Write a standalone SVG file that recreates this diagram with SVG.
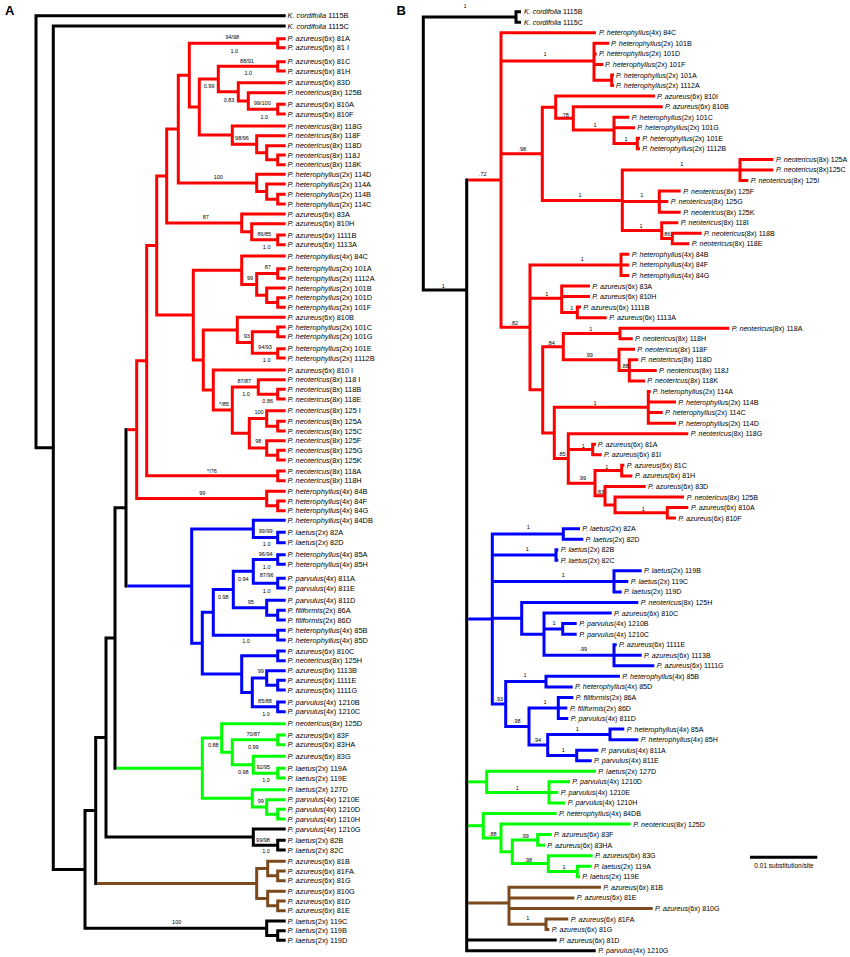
<svg xmlns="http://www.w3.org/2000/svg" width="850" height="957" viewBox="0 0 850 957">
<style>
.e path{fill:none;stroke-width:3;stroke-linejoin:miter;stroke-linecap:butt}
.k{stroke:#000}.r{stroke:#f00}.b{stroke:#00f}.g{stroke:#0f0}.n{stroke:#7b4b1e}
text{font-family:"Liberation Sans",Arial,Helvetica,sans-serif;fill:#000}
.ta text{font-size:7.4px}
.tb text{font-size:7.1px}
.s text{font-size:5.5px;text-anchor:middle}
.i{font-style:italic}
.h{font-size:13px;font-weight:bold}
</style>
<rect width="850" height="957" fill="#fff"/>
<text class="h" x="5" y="15">A</text>
<text class="h" x="396.5" y="15">B</text>

<g id="connectors-A" class="e">
<path class="r" d="M127.5 429.65H136.7"/>
<path class="b" d="M127.5 586.05H191.7"/>
<path class="g" d="M116.5 768.15H202.3"/>
<path class="n" d="M97.2 883.6H256.7"/>
<path class="k" d="M285.7 15.7H36V447.7H53.3"/>
<path class="k" d="M285.7 26H53.3V869.4H85"/>
<path class="k" d="M95.7 810.6H85V928.25H266.7"/>
<path class="k" d="M106 737.55H95.7V885.1"/>
<path class="k" d="M115 638H106V837.1H253.3"/>
<path class="k" d="M126 507.85H115V769.65"/>
<path class="k" d="M126 428.15V587.55"/>
<path class="k" d="M285.7 829H253.3V845.15H277.7"/>
<path class="k" d="M285.7 840.3H277.7V850H285.7"/>
<path class="k" d="M285.7 921H266.7V935.5H277.7"/>
<path class="k" d="M285.7 930.7H277.7V940.3H285.7"/>
<path class="r" d="M146.7 360.7H136.7V498.6H266.7"/>
<path class="r" d="M156.7 245.55H146.7V475.85H277.7"/>
<path class="r" d="M166.7 176H156.7V315.1H193.3"/>
<path class="r" d="M178.3 129.05H166.7V222.9H241.7"/>
<path class="r" d="M189.3 75.15H178.3V182.95H256.7"/>
<path class="r" d="M277.7 43.2H189.3V107.1H199.3"/>
<path class="r" d="M218.3 79.1H199.3V135.1H232.3"/>
<path class="r" d="M277.7 66.35H218.3V91.8H238.3"/>
<path class="r" d="M285.7 82.7H238.3V100.9H248.3"/>
<path class="r" d="M285.7 92.7H248.3V109.15H277.7"/>
<path class="r" d="M285.7 104.3H277.7V114H285.7"/>
<path class="r" d="M285.7 38.7H277.7V47.7H285.7"/>
<path class="r" d="M285.7 61.7H277.7V71H285.7"/>
<path class="r" d="M285.7 126H232.3V144.25H256.7"/>
<path class="r" d="M285.7 135.7H256.7V152.8H266.7"/>
<path class="r" d="M285.7 145.7H266.7V159.85H277.7"/>
<path class="r" d="M285.7 155H277.7V164.7H285.7"/>
<path class="r" d="M285.7 174.3H256.7V191.6H266.7"/>
<path class="r" d="M285.7 184H266.7V199.15H277.7"/>
<path class="r" d="M285.7 194.3H277.7V204H285.7"/>
<path class="r" d="M285.7 214H241.7V231.8H251.7"/>
<path class="r" d="M285.7 223.7H251.7V239.85H277.7"/>
<path class="r" d="M285.7 235H277.7V244.7H285.7"/>
<path class="r" d="M241.7 270.2H193.3V360H203.3"/>
<path class="r" d="M285.7 256H241.7V284.4H256.7"/>
<path class="r" d="M277.7 273.5H256.7V295.25H266.7"/>
<path class="r" d="M285.7 268.7H277.7V278.3H285.7"/>
<path class="r" d="M285.7 288H266.7V302.5H277.7"/>
<path class="r" d="M285.7 297.7H277.7V307.3H285.7"/>
<path class="r" d="M237.3 329.95H203.3V390H213.3"/>
<path class="r" d="M285.7 317.3H237.3V342.6H252.3"/>
<path class="r" d="M277.7 331.85H252.3V353.35H277.7"/>
<path class="r" d="M285.7 327H277.7V336.7H285.7"/>
<path class="r" d="M285.7 348.7H277.7V358H285.7"/>
<path class="r" d="M285.7 370H213.3V410H232.3"/>
<path class="r" d="M258.3 386.9H232.3V433.15H249.3"/>
<path class="r" d="M285.7 379.7H258.3V394.15H277.7"/>
<path class="r" d="M285.7 389.3H277.7V399H285.7"/>
<path class="r" d="M266.7 418.4H249.3V447.9H266.7"/>
<path class="r" d="M285.7 410.7H266.7V426.15H277.7"/>
<path class="r" d="M285.7 421.3H277.7V431H285.7"/>
<path class="r" d="M285.7 440.7H266.7V455.15H277.7"/>
<path class="r" d="M285.7 450.3H277.7V460H285.7"/>
<path class="r" d="M285.7 471H277.7V480.7H285.7"/>
<path class="r" d="M285.7 491.3H266.7V505.85H277.7"/>
<path class="r" d="M285.7 501H277.7V510.7H285.7"/>
<path class="b" d="M253.3 528.9H191.7V643.2H202.3"/>
<path class="b" d="M285.7 520.3H253.3V537.5H277.7"/>
<path class="b" d="M285.7 532.3H277.7V542.7H285.7"/>
<path class="b" d="M213.3 612.3H202.3V674.1H241.7"/>
<path class="b" d="M233.3 589.5H213.3V635.15H277.7"/>
<path class="b" d="M253.3 571.3H233.3V607.7H266.7"/>
<path class="b" d="M277.7 559.5H253.3V583.15H277.7"/>
<path class="b" d="M285.7 554.7H277.7V564.3H285.7"/>
<path class="b" d="M285.7 578.3H277.7V588H285.7"/>
<path class="b" d="M285.7 600.3H266.7V615.15H277.7"/>
<path class="b" d="M285.7 610.3H277.7V620H285.7"/>
<path class="b" d="M285.7 630.3H277.7V640H285.7"/>
<path class="b" d="M277.7 655.85H241.7V692.4H252.3"/>
<path class="b" d="M285.7 651H277.7V660.7H285.7"/>
<path class="b" d="M266.7 677.9H252.3V706.85H277.7"/>
<path class="b" d="M285.7 670.7H266.7V685.15H277.7"/>
<path class="b" d="M285.7 680.3H277.7V690H285.7"/>
<path class="b" d="M285.7 702H277.7V711.7H285.7"/>
<path class="g" d="M221.7 738H202.3V798.3H252.3"/>
<path class="g" d="M285.7 723.7H221.7V752.3H232.3"/>
<path class="g" d="M277.7 739.85H232.3V764.7H253.3"/>
<path class="g" d="M285.7 735H277.7V744.7H285.7"/>
<path class="g" d="M285.7 756.3H253.3V773.15H277.7"/>
<path class="g" d="M285.7 768.3H277.7V778H285.7"/>
<path class="g" d="M285.7 789.7H252.3V806.9H266.7"/>
<path class="g" d="M285.7 799.7H266.7V814.15H277.7"/>
<path class="g" d="M285.7 809.3H277.7V819H285.7"/>
<path class="n" d="M267.7 868.6H256.7V898.6H267.7"/>
<path class="n" d="M285.7 861.3H267.7V875.85H277.7"/>
<path class="n" d="M285.7 871H277.7V880.7H285.7"/>
<path class="n" d="M285.7 891.3H267.7V905.85H277.7"/>
<path class="n" d="M285.7 901H277.7V910.7H285.7"/>
</g>

<g id="connectors-B" class="e">
<path class="r" d="M468.2 180H501"/>
<path class="b" d="M468.2 619H492.3"/>
<path class="g" d="M468.2 781.85H486.7"/>
<path class="g" d="M468.2 825.7H483.3"/>
<path class="n" d="M468.2 903H509"/>
<path class="k" d="M521 11.7H516V22.25H521"/>
<path class="k" d="M516 16.98H423.3V290H466.7"/>
<path class="k" d="M466.7 178.5V950.65H595.7M466.7 940.1H556.7"/>
<path class="r" d="M596 32.8H501V327.35H530M501 61H594M501 153.85H542.3"/>
<path class="r" d="M609.3 43.35H594V80.28H611.7M594 53.9H596.7M594 64.45H603.3"/>
<path class="r" d="M614 75H611.7V85.55H614"/>
<path class="r" d="M555.7 107.2H542.3V200.5H622.3"/>
<path class="r" d="M655 96.1H555.7V118.3H573.3"/>
<path class="r" d="M662.7 106.65H573.3V130H614"/>
<path class="r" d="M629.3 117.2H614V143.58H637.3M614 127.75H635"/>
<path class="r" d="M640 138.3H637.3V148.85H640"/>
<path class="r" d="M740 170H622.3V230.6H661.7M622.3 201.6H659.3"/>
<path class="r" d="M773.3 159.4H740V180.5H748.3M740 169.95H773.3"/>
<path class="r" d="M680.7 191.05H659.3V212.15H680.7M659.3 201.6H668.3"/>
<path class="r" d="M678.3 222.7H661.7V238.5H672.3"/>
<path class="r" d="M701.7 233.25H672.3V243.8H689.3"/>
<path class="r" d="M621 264.9H530V389.8H542.7M530 298.3H561.7"/>
<path class="r" d="M629.3 254.35H621V275.45H629.3M621 264.9H629.3"/>
<path class="r" d="M590 286H561.7V312.4H577.3M561.7 296.55H590"/>
<path class="r" d="M581 307.1H577.3V317.65H606.7"/>
<path class="r" d="M563.3 346.7H542.7V432.9H554.3"/>
<path class="r" d="M620 333.5H563.3V359.85H619"/>
<path class="r" d="M729.3 328.2H620V338.75H632.7"/>
<path class="r" d="M635 349.3H619V370.4H629.3"/>
<path class="r" d="M638.3 359.85H629.3V380.95H645M629.3 370.4H656.7"/>
<path class="r" d="M648.3 407.3H554.3V458.5H568.3"/>
<path class="r" d="M650.7 391.5H648.3V423.15H676M648.3 402.05H676M648.3 412.6H662.7"/>
<path class="r" d="M688.3 433.7H568.3V483.2H595M568.3 449.5H592.7"/>
<path class="r" d="M596 444.25H592.7V454.8H601.7"/>
<path class="r" d="M621.7 470.6H595V495.7H605"/>
<path class="r" d="M624.3 465.35H621.7V475.9H632.3"/>
<path class="r" d="M645.7 486.45H605V504.9H615"/>
<path class="r" d="M684 497H615V512.8H667.3"/>
<path class="r" d="M688.3 507.55H667.3V518.1H676"/>
<path class="b" d="M563.3 533.9H492.3V704.05H505.7M492.3 555H556M492.3 581.4H614M492.3 618.3H521.7"/>
<path class="b" d="M580 528.65H563.3V539.2H583.3"/>
<path class="b" d="M558.3 549.75H556V560.3H558.3"/>
<path class="b" d="M641.7 570.85H614V591.95H621.7M614 581.4H628.3"/>
<path class="b" d="M638.3 602.5H521.7V634.15H544"/>
<path class="b" d="M611.7 613.05H544V655.25H614M544 628.9H562.7"/>
<path class="b" d="M576.7 623.6H562.7V634.15H576.7"/>
<path class="b" d="M616.7 644.7H614V665.8H654.3M614 655.25H641.7"/>
<path class="b" d="M546 681.6H505.7V726.5H529"/>
<path class="b" d="M620 676.35H546V686.9H572.7"/>
<path class="b" d="M558.3 708H529V744.95H547.7"/>
<path class="b" d="M573.3 697.45H558.3V718.55H568.3M558.3 708H567.3"/>
<path class="b" d="M610 734.4H547.7V755.5H576.7"/>
<path class="b" d="M624.3 729.1H610V739.65H638.3"/>
<path class="b" d="M598.3 750.2H576.7V760.75H591.7"/>
<path class="g" d="M596 771.3H486.7V792.4H549"/>
<path class="g" d="M570 781.85H549V802.95H565M549 792.4H558.3"/>
<path class="g" d="M556.7 813.5H483.3V837.9H501"/>
<path class="g" d="M630.7 824.05H501V851.75H512.3"/>
<path class="g" d="M537.7 839.9H512.3V863.6H548.3"/>
<path class="g" d="M551.7 834.6H537.7V845.15H545"/>
<path class="g" d="M592.7 855.7H548.3V871.5H577.3"/>
<path class="g" d="M591.7 866.25H577.3V876.8H580"/>
<path class="n" d="M601 887.35H509V924.3H546M509 897.9H574.3M509 908.45H652.7"/>
<path class="n" d="M568.3 919H546V929.55H549.3"/>
<path class="k" d="M750 857.3H817.3"/>
</g>

<g id="support-A" class="s">
<text x="232.3" y="39">94/98</text><text x="234.3" y="52.5">1.0</text>
<text x="247" y="62.5">88/91</text><text x="248.3" y="75">1.0</text>
<text x="209" y="88">0.99</text><text x="229" y="101.5">0.83</text>
<text x="262.3" y="104.5">99/100</text><text x="264.3" y="118.5">1.0</text>
<text x="242" y="139.5">98/96</text><text x="218.3" y="179">100</text>
<text x="205.7" y="218.5">87</text><text x="264.3" y="235.5">86/85</text><text x="266.7" y="249">1.0</text>
<text x="267.7" y="269">87</text><text x="250" y="279.5">99</text>
<text x="246.7" y="338">93</text><text x="265" y="349">94/93</text><text x="266.7" y="361.5">1.0</text>
<text x="244.3" y="382.5">87/87</text><text x="246" y="395.5">1.0</text><text x="267.7" y="403">0.86</text>
<text x="224" y="405.5">*/85</text><text x="259" y="414">100</text><text x="258.3" y="443">98</text>
<text x="212" y="472.5">*/76</text><text x="202.3" y="494.5">99</text>
<text x="265.7" y="533">99/99</text><text x="266.7" y="545.5">1.0</text>
<text x="265.7" y="555.5">96/94</text><text x="266.7" y="569">1.0</text>
<text x="243.3" y="580.5">0.94</text><text x="266.7" y="576.5">87/96</text><text x="266.7" y="592.5">1.0</text>
<text x="223.3" y="598.5">0.98</text><text x="250.7" y="604">95</text><text x="246" y="643">1.0</text>
<text x="260.7" y="673">99</text><text x="265" y="702.5">85/88</text><text x="266" y="715.5">1.0</text>
<text x="253.3" y="735.5">70/87</text><text x="213.3" y="746.5">0.88</text><text x="253.3" y="748.5">0.99</text>
<text x="263.3" y="768.5">92/95</text><text x="243.3" y="773.5">0.98</text><text x="266" y="781.5">1.0</text>
<text x="260.7" y="802.5">99</text><text x="263" y="841.5">99/98</text><text x="266" y="853">1.0</text>
<text x="176.7" y="924">100</text>
</g>

<g id="support-B" class="s">
<text x="465" y="8">1</text><text x="545" y="56">1</text><text x="522.3" y="150.5">.98</text>
<text x="482.7" y="175.5">.72</text><text x="565" y="116.5">.78</text><text x="595" y="127">1</text>
<text x="626" y="140.5">1</text><text x="681.7" y="165.5">1</text><text x="580" y="197">1</text>
<text x="641.7" y="197">1</text><text x="641" y="228">1</text><text x="667.3" y="236">86</text>
<text x="582.3" y="261">1</text><text x="443.3" y="288">1</text><text x="546.7" y="296">1</text>
<text x="571.7" y="309.5">1</text><text x="514.3" y="324.5">.82</text><text x="590.7" y="331">1</text>
<text x="551" y="344.5">.84</text><text x="589" y="357">.99</text><text x="625" y="368">.88</text>
<text x="595" y="404.5">1</text><text x="583.3" y="448">1</text><text x="561.7" y="456">.85</text>
<text x="606.7" y="469">1</text><text x="582.3" y="480">.99</text><text x="600.3" y="494">.83</text>
<text x="643.3" y="510.5">1</text><text x="528.3" y="529">1</text><text x="527.3" y="550.5">1</text>
<text x="563.3" y="576.5">1</text><text x="554" y="624.5">1</text><text x="583.3" y="651">.99</text>
<text x="525" y="677">1</text><text x="499.3" y="700.5">.93</text><text x="545" y="704">1</text>
<text x="516.7" y="723">.98</text><text x="577.3" y="731">1</text><text x="537.3" y="741.5">.94</text>
<text x="563.3" y="751.5">1</text><text x="517.3" y="790">1</text><text x="492.7" y="836">.88</text>
<text x="525" y="838">.99</text><text x="528.3" y="861.5">.98</text><text x="564" y="869">1</text>
<text x="527.7" y="919.5">1</text>
</g>
<text x="784" y="867.5" font-size="6.5" text-anchor="middle">0.01 substitution/site</text>

<g id="leaves-A" class="ta">
<g id="A-1115B"><text x="287.5" y="18.3"><tspan class="i">K. cordifolia</tspan> 1115B</text></g>
<g id="A-1115C"><text x="287.5" y="28.6"><tspan class="i">K. cordifolia</tspan> 1115C</text></g>
<g id="A-81A"><text x="287.5" y="41.3"><tspan class="i">P. azureus</tspan>(6x) 81A</text></g>
<g id="A-81I"><text x="287.5" y="50.3"><tspan class="i">P. azureus</tspan>(6x) 81 I</text></g>
<g id="A-81C"><text x="287.5" y="64.3"><tspan class="i">P. azureus</tspan>(6x) 81C</text></g>
<g id="A-81H"><text x="287.5" y="73.6"><tspan class="i">P. azureus</tspan>(6x) 81H</text></g>
<g id="A-83D"><text x="287.5" y="85.3"><tspan class="i">P. azureus</tspan>(6x) 83D</text></g>
<g id="A-125B"><text x="287.5" y="95.3"><tspan class="i">P. neotericus</tspan>(8x) 125B</text></g>
<g id="A-810A"><text x="287.5" y="106.9"><tspan class="i">P. azureus</tspan>(6x) 810A</text></g>
<g id="A-810F"><text x="287.5" y="116.6"><tspan class="i">P. azureus</tspan>(6x) 810F</text></g>
<g id="A-118G"><text x="287.5" y="128.6"><tspan class="i">P. neotericus</tspan>(8x) 118G</text></g>
<g id="A-118F"><text x="287.5" y="138.3"><tspan class="i">P. neotericus</tspan>(8x) 118F</text></g>
<g id="A-118D"><text x="287.5" y="148.3"><tspan class="i">P. neotericus</tspan>(8x) 118D</text></g>
<g id="A-118J"><text x="287.5" y="157.6"><tspan class="i">P. neotericus</tspan>(8x) 118J</text></g>
<g id="A-118K"><text x="287.5" y="167.3"><tspan class="i">P. neotericus</tspan>(8x) 118K</text></g>
<g id="A-114D"><text x="287.5" y="176.9"><tspan class="i">P. heterophyllus</tspan>(2x) 114D</text></g>
<g id="A-114A"><text x="287.5" y="186.6"><tspan class="i">P. heterophyllus</tspan>(2x) 114A</text></g>
<g id="A-114B"><text x="287.5" y="196.9"><tspan class="i">P. heterophyllus</tspan>(2x) 114B</text></g>
<g id="A-114C"><text x="287.5" y="206.6"><tspan class="i">P. heterophyllus</tspan>(2x) 114C</text></g>
<g id="A-83A"><text x="287.5" y="216.6"><tspan class="i">P. azureus</tspan>(6x) 83A</text></g>
<g id="A-810H"><text x="287.5" y="226.3"><tspan class="i">P. azureus</tspan>(6x) 810H</text></g>
<g id="A-1111B"><text x="287.5" y="237.6"><tspan class="i">P. azureus</tspan>(6x) 1111B</text></g>
<g id="A-1113A"><text x="287.5" y="247.3"><tspan class="i">P. azureus</tspan>(6x) 1113A</text></g>
<g id="A-84C"><text x="287.5" y="258.6"><tspan class="i">P. heterophyllus</tspan>(4x) 84C</text></g>
<g id="A-101A"><text x="287.5" y="271.3"><tspan class="i">P. heterophyllus</tspan>(2x) 101A</text></g>
<g id="A-1112A"><text x="287.5" y="280.9"><tspan class="i">P. heterophyllus</tspan>(2x) 1112A</text></g>
<g id="A-101B"><text x="287.5" y="290.6"><tspan class="i">P. heterophyllus</tspan>(2x) 101B</text></g>
<g id="A-101D"><text x="287.5" y="300.3"><tspan class="i">P. heterophyllus</tspan>(2x) 101D</text></g>
<g id="A-101F"><text x="287.5" y="309.9"><tspan class="i">P. heterophyllus</tspan>(2x) 101F</text></g>
<g id="A-810B"><text x="287.5" y="319.9"><tspan class="i">P. azureus</tspan>(6x) 810B</text></g>
<g id="A-101C"><text x="287.5" y="329.6"><tspan class="i">P. heterophyllus</tspan>(2x) 101C</text></g>
<g id="A-101G"><text x="287.5" y="339.3"><tspan class="i">P. heterophyllus</tspan>(2x) 101G</text></g>
<g id="A-101E"><text x="287.5" y="351.3"><tspan class="i">P. heterophyllus</tspan>(2x) 101E</text></g>
<g id="A-1112B"><text x="287.5" y="360.6"><tspan class="i">P. heterophyllus</tspan>(2x) 1112B</text></g>
<g id="A-810I"><text x="287.5" y="372.6"><tspan class="i">P. azureus</tspan>(6x) 810 I</text></g>
<g id="A-118I"><text x="287.5" y="382.3"><tspan class="i">P. neotericus</tspan>(8x) 118 I</text></g>
<g id="A-118B"><text x="287.5" y="391.9"><tspan class="i">P. neotericus</tspan>(8x) 118B</text></g>
<g id="A-118E"><text x="287.5" y="401.6"><tspan class="i">P. neotericus</tspan>(8x) 118E</text></g>
<g id="A-125I"><text x="287.5" y="413.3"><tspan class="i">P. neotericus</tspan>(8x) 125 I</text></g>
<g id="A-125A"><text x="287.5" y="423.9"><tspan class="i">P. neotericus</tspan>(8x) 125A</text></g>
<g id="A-125C"><text x="287.5" y="433.6"><tspan class="i">P. neotericus</tspan>(8x) 125C</text></g>
<g id="A-125F"><text x="287.5" y="443.3"><tspan class="i">P. neotericus</tspan>(8x) 125F</text></g>
<g id="A-125G"><text x="287.5" y="452.9"><tspan class="i">P. neotericus</tspan>(8x) 125G</text></g>
<g id="A-125K"><text x="287.5" y="462.6"><tspan class="i">P. neotericus</tspan>(8x) 125K</text></g>
<g id="A-118A"><text x="287.5" y="473.6"><tspan class="i">P. neotericus</tspan>(8x) 118A</text></g>
<g id="A-118H"><text x="287.5" y="483.3"><tspan class="i">P. neotericus</tspan>(8x) 118H</text></g>
<g id="A-84B"><text x="287.5" y="493.9"><tspan class="i">P. heterophyllus</tspan>(4x) 84B</text></g>
<g id="A-84F"><text x="287.5" y="503.6"><tspan class="i">P. heterophyllus</tspan>(4x) 84F</text></g>
<g id="A-84G"><text x="287.5" y="513.3"><tspan class="i">P. heterophyllus</tspan>(4x) 84G</text></g>
<g id="A-84DB"><text x="287.5" y="522.9"><tspan class="i">P. heterophyllus</tspan>(4x) 84DB</text></g>
<g id="A-82A"><text x="287.5" y="534.9"><tspan class="i">P. laetus</tspan>(2x) 82A</text></g>
<g id="A-82D"><text x="287.5" y="545.3"><tspan class="i">P. laetus</tspan>(2x) 82D</text></g>
<g id="A-85A"><text x="287.5" y="557.3"><tspan class="i">P. heterophyllus</tspan>(4x) 85A</text></g>
<g id="A-85H"><text x="287.5" y="566.9"><tspan class="i">P. heterophyllus</tspan>(4x) 85H</text></g>
<g id="A-811A"><text x="287.5" y="580.9"><tspan class="i">P. parvulus</tspan>(4x) 811A</text></g>
<g id="A-811E"><text x="287.5" y="590.6"><tspan class="i">P. parvulus</tspan>(4x) 811E</text></g>
<g id="A-811D"><text x="287.5" y="602.9"><tspan class="i">P. parvulus</tspan>(4x) 811D</text></g>
<g id="A-86A"><text x="287.5" y="612.9"><tspan class="i">P. filiformis</tspan>(2x) 86A</text></g>
<g id="A-86D"><text x="287.5" y="622.6"><tspan class="i">P. filiformis</tspan>(2x) 86D</text></g>
<g id="A-85B"><text x="287.5" y="632.9"><tspan class="i">P. heterophyllus</tspan>(4x) 85B</text></g>
<g id="A-85D"><text x="287.5" y="642.6"><tspan class="i">P. heterophyllus</tspan>(4x) 85D</text></g>
<g id="A-810C"><text x="287.5" y="653.6"><tspan class="i">P. azureus</tspan>(6x) 810C</text></g>
<g id="A-125H"><text x="287.5" y="663.3"><tspan class="i">P. neotericus</tspan>(8x) 125H</text></g>
<g id="A-1113B"><text x="287.5" y="673.3"><tspan class="i">P. azureus</tspan>(6x) 1113B</text></g>
<g id="A-1111E"><text x="287.5" y="682.9"><tspan class="i">P. azureus</tspan>(6x) 1111E</text></g>
<g id="A-1111G"><text x="287.5" y="692.6"><tspan class="i">P. azureus</tspan>(6x) 1111G</text></g>
<g id="A-1210B"><text x="287.5" y="704.6"><tspan class="i">P. parvulus</tspan>(4x) 1210B</text></g>
<g id="A-1210C"><text x="287.5" y="714.3"><tspan class="i">P. parvulus</tspan>(4x) 1210C</text></g>
<g id="A-125D"><text x="287.5" y="726.3"><tspan class="i">P. neotericus</tspan>(8x) 125D</text></g>
<g id="A-83F"><text x="287.5" y="737.6"><tspan class="i">P. azureus</tspan>(6x) 83F</text></g>
<g id="A-83HA"><text x="287.5" y="747.3"><tspan class="i">P. azureus</tspan>(6x) 83HA</text></g>
<g id="A-83G"><text x="287.5" y="758.9"><tspan class="i">P. azureus</tspan>(6x) 83G</text></g>
<g id="A-119A"><text x="287.5" y="770.9"><tspan class="i">P. laetus</tspan>(2x) 119A</text></g>
<g id="A-119E"><text x="287.5" y="780.6"><tspan class="i">P. laetus</tspan>(2x) 119E</text></g>
<g id="A-127D"><text x="287.5" y="792.3"><tspan class="i">P. laetus</tspan>(2x) 127D</text></g>
<g id="A-1210E"><text x="287.5" y="802.3"><tspan class="i">P. parvulus</tspan>(4x) 1210E</text></g>
<g id="A-1210D"><text x="287.5" y="811.9"><tspan class="i">P. parvulus</tspan>(4x) 1210D</text></g>
<g id="A-1210H"><text x="287.5" y="821.6"><tspan class="i">P. parvulus</tspan>(4x) 1210H</text></g>
<g id="A-1210G"><text x="287.5" y="831.6"><tspan class="i">P. parvulus</tspan>(4x) 1210G</text></g>
<g id="A-82B"><text x="287.5" y="842.9"><tspan class="i">P. laetus</tspan>(2x) 82B</text></g>
<g id="A-82C"><text x="287.5" y="852.6"><tspan class="i">P. laetus</tspan>(2x) 82C</text></g>
<g id="A-81B"><text x="287.5" y="863.9"><tspan class="i">P. azureus</tspan>(6x) 81B</text></g>
<g id="A-81FA"><text x="287.5" y="873.6"><tspan class="i">P. azureus</tspan>(6x) 81FA</text></g>
<g id="A-81G"><text x="287.5" y="883.3"><tspan class="i">P. azureus</tspan>(6x) 81G</text></g>
<g id="A-810G"><text x="287.5" y="893.9"><tspan class="i">P. azureus</tspan>(6x) 810G</text></g>
<g id="A-81D"><text x="287.5" y="903.6"><tspan class="i">P. azureus</tspan>(6x) 81D</text></g>
<g id="A-81E"><text x="287.5" y="913.3"><tspan class="i">P. azureus</tspan>(6x) 81E</text></g>
<g id="A-119C"><text x="287.5" y="923.6"><tspan class="i">P. laetus</tspan>(2x) 119C</text></g>
<g id="A-119B"><text x="287.5" y="933.3"><tspan class="i">P. laetus</tspan>(2x) 119B</text></g>
<g id="A-119D"><text x="287.5" y="942.9"><tspan class="i">P. laetus</tspan>(2x) 119D</text></g>
</g>

<g id="leaves-B" class="tb">
<g id="B-1115B"><text x="524" y="14.2"><tspan class="i">K. cordifolia</tspan> 1115B</text></g>
<g id="B-1115C"><text x="524" y="24.75"><tspan class="i">K. cordifolia</tspan> 1115C</text></g>
<g id="B-84C"><text x="599" y="35.3"><tspan class="i">P. heterophyllus</tspan>(4x) 84C</text></g>
<g id="B-101B"><text x="611" y="45.85"><tspan class="i">P. heterophyllus</tspan>(2x) 101B</text></g>
<g id="B-101D"><text x="599" y="56.4"><tspan class="i">P. heterophyllus</tspan>(2x) 101D</text></g>
<g id="B-101F"><text x="605" y="66.95"><tspan class="i">P. heterophyllus</tspan>(2x) 101F</text></g>
<g id="B-101A"><text x="616" y="77.5"><tspan class="i">P. heterophyllus</tspan>(2x) 101A</text></g>
<g id="B-1112A"><text x="616" y="88.05"><tspan class="i">P. heterophyllus</tspan>(2x) 1112A</text></g>
<g id="B-810I"><text x="657" y="98.6"><tspan class="i">P. azureus</tspan>(6x) 810I</text></g>
<g id="B-810B"><text x="665" y="109.15"><tspan class="i">P. azureus</tspan>(6x) 810B</text></g>
<g id="B-101C"><text x="631.7" y="119.7"><tspan class="i">P. heterophyllus</tspan>(2x) 101C</text></g>
<g id="B-101G"><text x="637.3" y="130.25"><tspan class="i">P. heterophyllus</tspan>(2x) 101G</text></g>
<g id="B-101E"><text x="642.3" y="140.8"><tspan class="i">P. heterophyllus</tspan>(2x) 101E</text></g>
<g id="B-1112B"><text x="642.3" y="151.35"><tspan class="i">P. heterophyllus</tspan>(2x) 1112B</text></g>
<g id="B-125A"><text x="776" y="161.9"><tspan class="i">P. neotericus</tspan>(8x) 125A</text></g>
<g id="B-125C"><text x="776" y="172.45"><tspan class="i">P. neotericus</tspan>(8x)125C</text></g>
<g id="B-125I"><text x="750.7" y="183"><tspan class="i">P. neotericus</tspan>(8x) 125I</text></g>
<g id="B-125F"><text x="683.3" y="193.55"><tspan class="i">P. neotericus</tspan>(8x) 125F</text></g>
<g id="B-125G"><text x="670.7" y="204.1"><tspan class="i">P. neotericus</tspan>(8x) 125G</text></g>
<g id="B-125K"><text x="683.3" y="214.65"><tspan class="i">P. neotericus</tspan>(8x) 125K</text></g>
<g id="B-118I"><text x="680.7" y="225.2"><tspan class="i">P. neotericus</tspan>(8x) 118I</text></g>
<g id="B-118B"><text x="704" y="235.75"><tspan class="i">P. neotericus</tspan>(8x) 118B</text></g>
<g id="B-118E"><text x="691.7" y="246.3"><tspan class="i">P. neotericus</tspan>(8x) 118E</text></g>
<g id="B-84B"><text x="631.7" y="256.85"><tspan class="i">P. heterophyllus</tspan>(4x) 84B</text></g>
<g id="B-84F"><text x="631.7" y="267.4"><tspan class="i">P. heterophyllus</tspan>(4x) 84F</text></g>
<g id="B-84G"><text x="631.7" y="277.95"><tspan class="i">P. heterophyllus</tspan>(4x) 84G</text></g>
<g id="B-83A"><text x="592.3" y="288.5"><tspan class="i">P. azureus</tspan>(6x) 83A</text></g>
<g id="B-810H"><text x="592.3" y="299.05"><tspan class="i">P. azureus</tspan>(6x) 810H</text></g>
<g id="B-1111B"><text x="583.3" y="309.6"><tspan class="i">P. azureus</tspan>(6x) 1111B</text></g>
<g id="B-1113A"><text x="609.3" y="320.15"><tspan class="i">P. azureus</tspan>(6x) 1113A</text></g>
<g id="B-118A"><text x="731.7" y="330.7"><tspan class="i">P. neotericus</tspan>(8x) 118A</text></g>
<g id="B-118H"><text x="635" y="341.25"><tspan class="i">P. neotericus</tspan>(8x) 118H</text></g>
<g id="B-118F"><text x="637.3" y="351.8"><tspan class="i">P. neotericus</tspan>(8x) 118F</text></g>
<g id="B-118D"><text x="640.7" y="362.35"><tspan class="i">P. neotericus</tspan>(8x) 118D</text></g>
<g id="B-118J"><text x="659" y="372.9"><tspan class="i">P. neotericus</tspan>(8x) 118J</text></g>
<g id="B-118K"><text x="647.3" y="383.45"><tspan class="i">P. neotericus</tspan>(8x) 118K</text></g>
<g id="B-114A"><text x="652.7" y="394"><tspan class="i">P. heterophyllus</tspan>(2x) 114A</text></g>
<g id="B-114B"><text x="678.3" y="404.55"><tspan class="i">P. heterophyllus</tspan>(2x) 114B</text></g>
<g id="B-114C"><text x="665" y="415.1"><tspan class="i">P. heterophyllus</tspan>(2x) 114C</text></g>
<g id="B-114D"><text x="678.3" y="425.65"><tspan class="i">P. heterophyllus</tspan>(2x) 114D</text></g>
<g id="B-118G"><text x="690.7" y="436.2"><tspan class="i">P. neotericus</tspan>(8x) 118G</text></g>
<g id="B-81A"><text x="597.7" y="446.75"><tspan class="i">P. azureus</tspan>(6x) 81A</text></g>
<g id="B-81I"><text x="604" y="457.3"><tspan class="i">P. azureus</tspan>(6x) 81I</text></g>
<g id="B-81C"><text x="626.7" y="467.85"><tspan class="i">P. azureus</tspan>(6x) 81C</text></g>
<g id="B-81H"><text x="635" y="478.4"><tspan class="i">P. azureus</tspan>(6x) 81H</text></g>
<g id="B-83D"><text x="648" y="488.95"><tspan class="i">P. azureus</tspan>(6x) 83D</text></g>
<g id="B-125B"><text x="686.7" y="499.5"><tspan class="i">P. neotericus</tspan>(8x) 125B</text></g>
<g id="B-810A"><text x="691" y="510.05"><tspan class="i">P. azureus</tspan>(6x) 810A</text></g>
<g id="B-810F"><text x="678.3" y="520.6"><tspan class="i">P. azureus</tspan>(6x) 810F</text></g>
<g id="B-82A"><text x="582.3" y="531.15"><tspan class="i">P. laetus</tspan>(2x) 82A</text></g>
<g id="B-82D"><text x="585.5" y="541.7"><tspan class="i">P. laetus</tspan>(2x) 82D</text></g>
<g id="B-82B"><text x="560.7" y="552.25"><tspan class="i">P. laetus</tspan>(2x) 82B</text></g>
<g id="B-82C"><text x="560.7" y="562.8"><tspan class="i">P. laetus</tspan>(2x) 82C</text></g>
<g id="B-119B"><text x="644" y="573.35"><tspan class="i">P. laetus</tspan>(2x) 119B</text></g>
<g id="B-119C"><text x="630.7" y="583.9"><tspan class="i">P. laetus</tspan>(2x) 119C</text></g>
<g id="B-119D"><text x="624" y="594.45"><tspan class="i">P. laetus</tspan>(2x) 119D</text></g>
<g id="B-125H"><text x="640.7" y="605"><tspan class="i">P. neotericus</tspan>(8x) 125H</text></g>
<g id="B-810C"><text x="614" y="615.55"><tspan class="i">P. azureus</tspan>(6x) 810C</text></g>
<g id="B-1210B"><text x="579.3" y="626.1"><tspan class="i">P. parvulus</tspan>(4x) 1210B</text></g>
<g id="B-1210C"><text x="579.3" y="636.65"><tspan class="i">P. parvulus</tspan>(4x) 1210C</text></g>
<g id="B-1111E"><text x="619" y="647.2"><tspan class="i">P. azureus</tspan>(6x) 1111E</text></g>
<g id="B-1113B"><text x="644" y="657.75"><tspan class="i">P. azureus</tspan>(6x) 1113B</text></g>
<g id="B-1111G"><text x="656.7" y="668.3"><tspan class="i">P. azureus</tspan>(6x) 1111G</text></g>
<g id="B-85B"><text x="622.3" y="678.85"><tspan class="i">P. heterophyllus</tspan>(4x) 85B</text></g>
<g id="B-85D"><text x="575" y="689.4"><tspan class="i">P. heterophyllus</tspan>(4x) 85D</text></g>
<g id="B-86A"><text x="575.7" y="699.95"><tspan class="i">P. filiformis</tspan>(2x) 86A</text></g>
<g id="B-86D"><text x="570" y="710.5"><tspan class="i">P. filiformis</tspan>(2x) 86D</text></g>
<g id="B-811D"><text x="570.7" y="721.05"><tspan class="i">P. parvulus</tspan>(4x) 811D</text></g>
<g id="B-85A"><text x="626.7" y="731.6"><tspan class="i">P. heterophyllus</tspan>(4x) 85A</text></g>
<g id="B-85H"><text x="640.7" y="742.15"><tspan class="i">P. heterophyllus</tspan>(4x) 85H</text></g>
<g id="B-811A"><text x="601" y="752.7"><tspan class="i">P. parvulus</tspan>(4x) 811A</text></g>
<g id="B-811E"><text x="594" y="763.25"><tspan class="i">P. parvulus</tspan>(4x) 811E</text></g>
<g id="B-127D"><text x="598.3" y="773.8"><tspan class="i">P. laetus</tspan>(2x) 127D</text></g>
<g id="B-1210D"><text x="572.3" y="784.35"><tspan class="i">P. parvulus</tspan>(4x) 1210D</text></g>
<g id="B-1210E"><text x="560.7" y="794.9"><tspan class="i">P. parvulus</tspan>(4x) 1210E</text></g>
<g id="B-1210H"><text x="567.7" y="805.45"><tspan class="i">P. parvulus</tspan>(4x) 1210H</text></g>
<g id="B-84DB"><text x="559" y="816"><tspan class="i">P. heterophyllus</tspan>(4x) 84DB</text></g>
<g id="B-125D"><text x="633.3" y="826.55"><tspan class="i">P. neotericus</tspan>(8x) 125D</text></g>
<g id="B-83F"><text x="554" y="837.1"><tspan class="i">P. azureus</tspan>(6x) 83F</text></g>
<g id="B-83HA"><text x="547.3" y="847.65"><tspan class="i">P. azureus</tspan>(6x) 83HA</text></g>
<g id="B-83G"><text x="595" y="858.2"><tspan class="i">P. azureus</tspan>(6x) 83G</text></g>
<g id="B-119A"><text x="594" y="868.75"><tspan class="i">P. laetus</tspan>(2x) 119A</text></g>
<g id="B-119E"><text x="582.3" y="879.3"><tspan class="i">P. laetus</tspan>(2x) 119E</text></g>
<g id="B-81B"><text x="603.3" y="889.85"><tspan class="i">P. azureus</tspan>(6x) 81B</text></g>
<g id="B-81E"><text x="576.7" y="900.4"><tspan class="i">P. azureus</tspan>(6x) 81E</text></g>
<g id="B-810G"><text x="655" y="910.95"><tspan class="i">P. azureus</tspan>(6x) 810G</text></g>
<g id="B-81FA"><text x="570.7" y="921.5"><tspan class="i">P. azureus</tspan>(6x) 81FA</text></g>
<g id="B-81G"><text x="551.7" y="932.05"><tspan class="i">P. azureus</tspan>(6x) 81G</text></g>
<g id="B-81D"><text x="559.3" y="942.6"><tspan class="i">P. azureus</tspan>(6x) 81D</text></g>
<g id="B-1210G"><text x="598.3" y="953.15"><tspan class="i">P. parvulus</tspan>(4x) 1210G</text></g>
</g>
</svg>
